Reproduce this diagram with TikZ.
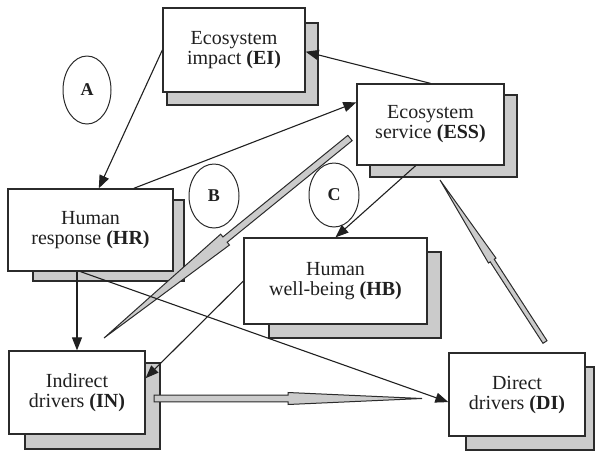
\documentclass[tikz,border=0pt]{standalone}
\usepackage{fontspec}
\setmainfont{Liberation Serif}
\usetikzlibrary{arrows.meta,calc,shapes.geometric}

\definecolor{edge}{HTML}{2B2B2B}
\definecolor{shade}{HTML}{CBCBCB}
\definecolor{ink}{HTML}{202020}

\tikzset{
  frontbox/.style={draw=edge, line width=1.3pt, fill=white, inner sep=0pt,
    align=center, text=ink, font=\fontsize{20}{20}\selectfont},
  shadowbox/.style={draw=edge, line width=1.3pt, fill=shade},
  link/.style={draw=ink, line width=1.1pt, -{Triangle[length=13pt,width=10pt]}},
  tag/.style={draw=edge, line width=1pt, ellipse, inner sep=0pt, text=ink,
    font=\fontsize{18}{18}\selectfont\bfseries},
  blockarrow/.style={draw=edge, line width=1pt, fill=shade, line join=miter},
}

% broad arrow: tail, tip, shaft half-width, head half-width, head length
\newcommand{\broadarrow}[5]{%
  \coordinate (#1-#2-s) at ($(#2)!#5!(#1)$);
  \draw[blockarrow]
    ($(#1)!#3!90:(#2)$) -- ($(#1-#2-s)!#3!90:(#2)$) --
    ($(#1-#2-s)!#4!90:(#2)$) -- (#2) --
    ($(#1-#2-s)!#4!-90:(#2)$) -- ($(#1-#2-s)!#3!-90:(#2)$) --
    ($(#1)!#3!-90:(#2)$) -- cycle;
}

\begin{document}
\begin{tikzpicture}[x=1pt, y=-1pt]
\useasboundingbox (0,0) rectangle (595,451);

% stacked sheets behind each box
\draw[shadowbox] (167,23) rectangle (318,105);
\draw[shadowbox] (370,95) rectangle (517,177);
\draw[shadowbox] (33,200) rectangle (184,281);
\draw[shadowbox] (269,252) rectangle (441,338);
\draw[shadowbox] (25,363) rectangle (160,449);
\draw[shadowbox] (466,367) rectangle (594,450);

% boxes
\node[frontbox, minimum width=142pt, minimum height=84pt] (EI) at (234,50)
  {Ecosystem\\impact \textbf{(EI)}};
\node[frontbox, minimum width=147pt, minimum height=81pt] (ESS) at (430.5,124.5)
  {Ecosystem\\service \textbf{(ESS)}};
\node[frontbox, minimum width=165pt, minimum height=82pt] (HR) at (90.5,230)
  {Human\\response \textbf{(HR)}};
\node[frontbox, minimum width=183pt, minimum height=86pt] (HB) at (335.5,281)
  {Human\\well-being \textbf{(HB)}};
\node[frontbox, minimum width=136pt, minimum height=83pt] (IN) at (77,392.5)
  {Indirect\\drivers \textbf{(IN)}};
\node[frontbox, minimum width=136pt, minimum height=83pt] (DI) at (517,394.5)
  {Direct\\drivers \textbf{(DI)}};

% loop markers
\node[tag, minimum width=48pt, minimum height=68pt] (A) at (87,90) {A};
\node[tag, minimum width=50pt, minimum height=64pt] (B) at (214,196) {B};
\node[tag, minimum width=50pt, minimum height=64pt] (C) at (334,195) {C};

% broad arrows
\coordinate (wa-tail) at (350,138);
\coordinate (wa-tip) at (104,338);
\broadarrow{wa-tail}{wa-tip}{3.4pt}{7pt}{156pt}
\coordinate (wb-tail) at (154,398.5);
\coordinate (wb-tip) at (422,398.5);
\broadarrow{wb-tail}{wb-tip}{3.3pt}{6pt}{134pt}
\coordinate (wc-tail) at (545,342);
\coordinate (wc-tip) at (440,180);
\broadarrow{wc-tail}{wc-tip}{2.4pt}{4.5pt}{96pt}

% thin links
\draw[link] (EI.west) -- ($(HR.north west)!0.55!(HR.north east)$);
\draw[link] ($(HR.north west)!0.76!(HR.north east)$) -- ($(ESS.north west)!0.23!(ESS.south west)$);
\draw[link] (ESS.north) -- ($(EI.north east)!0.52!(EI.south east)$);
\draw[link] ($(ESS.south west)!0.40!(ESS.south east)$) -- (HB.north);
\draw[link] (HR.south -| IN.north) -- (IN.north);
\draw[link] (HB.west) -- ($(IN.north east)!0.33!(IN.south east)$);
\draw[link] ($(HR.south west)!0.44!(HR.south east)$) -- ($(DI.north west)!0.59!(DI.south west)$);
\end{tikzpicture}
\end{document}
